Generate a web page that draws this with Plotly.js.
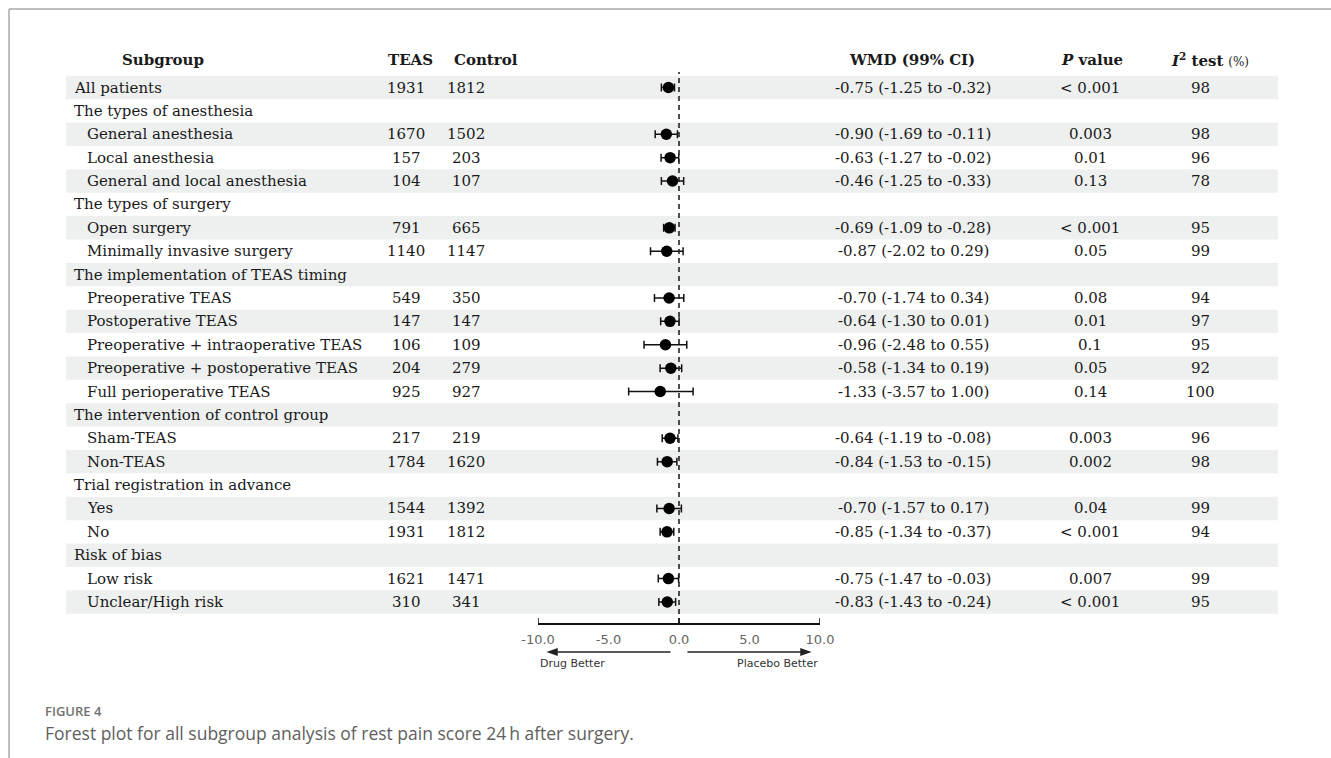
<!DOCTYPE html>
<html>
<head>
<meta charset="utf-8">
<script src="https://cdn.plot.ly/plotly-3.0.1.min.js"></script>
<style>html,body{margin:0;padding:0;background:#fff;}#chart{width:1331px;height:758px;}</style>
</head>
<body>
<div id="chart"></div>
<script>
// ---------------- data ----------------
const subgroups = [
  "All patients",
  "The types of anesthesia",
  "General anesthesia",
  "Local anesthesia",
  "General and local anesthesia",
  "The types of surgery",
  "Open surgery",
  "Minimally invasive surgery",
  "The implementation of TEAS timing",
  "Preoperative TEAS",
  "Postoperative TEAS",
  "Preoperative + intraoperative TEAS",
  "Preoperative + postoperative TEAS",
  "Full perioperative TEAS",
  "The intervention of control group",
  "Sham-TEAS",
  "Non-TEAS",
  "Trial registration in advance",
  "Yes",
  "No",
  "Risk of bias",
  "Low risk",
  "Unclear/High risk"
];
const levels = [0,0,1,1,1,0,1,1,0,1,1,1,1,1,0,1,1,0,1,1,0,1,1];
const teasN = ["1931","","1670","157","104","","791","1140","","549","147","106","204","925","","217","1784","","1544","1931","","1621","310"];
const controlN = ["1812","","1502","203","107","","665","1147","","350","147","109","279","927","","219","1620","","1392","1812","","1471","341"];
const wmd = [-0.75,null,-0.90,-0.63,-0.46,null,-0.69,-0.87,null,-0.70,-0.64,-0.96,-0.58,-1.33,null,-0.64,-0.84,null,-0.70,-0.85,null,-0.75,-0.83];
const ciLow = [-1.25,null,-1.69,-1.27,-1.25,null,-1.09,-2.02,null,-1.74,-1.30,-2.48,-1.34,-3.57,null,-1.19,-1.53,null,-1.57,-1.34,null,-1.47,-1.43];
const ciHigh = [-0.32,null,-0.11,-0.02,0.33,null,-0.28,0.29,null,0.34,0.01,0.55,0.19,1.00,null,-0.08,-0.15,null,0.17,-0.37,null,-0.03,-0.24];
const ciLabels = ["-0.75 (-1.25 to -0.32)","","-0.90 (-1.69 to -0.11)","-0.63 (-1.27 to -0.02)","-0.46 (-1.25 to -0.33)","",
  "-0.69 (-1.09 to -0.28)","-0.87 (-2.02 to 0.29)","","-0.70 (-1.74 to 0.34)","-0.64 (-1.30 to 0.01)","-0.96 (-2.48 to 0.55)",
  "-0.58 (-1.34 to 0.19)","-1.33 (-3.57 to 1.00)","","-0.64 (-1.19 to -0.08)","-0.84 (-1.53 to -0.15)","",
  "-0.70 (-1.57 to 0.17)","-0.85 (-1.34 to -0.37)","","-0.75 (-1.47 to -0.03)","-0.83 (-1.43 to -0.24)"];
const pValues = ["< 0.001","","0.003","0.01","0.13","","< 0.001","0.05","","0.08","0.01","0.1","0.05","0.14","","0.003","0.002","","0.04","< 0.001","","0.007","< 0.001"];
const i2Values = ["98","","98","96","78","","95","99","","94","97","95","92","100","","96","98","","99","94","","99","95"];
const xTickVals = [-10,-5,0,5,10];
const xTickText = ["-10.0","-5.0","0.0","5.0","10.0"];
const xMajorTicks = [-10,0,10];

// ---------------- layout helpers ----------------
const W = 1331, H = 758;
const px = x => x / W;
const py = y => 1 - y / H;
const rowTop = 87.5, rowStep = 23.386;
const plotTop = 72, plotBottom = 623;
const yTopVal = (plotTop - rowTop) / rowStep;
const yBotVal = (plotBottom - rowTop) / rowStep;
const rows = subgroups.map((_, i) => i);

const serif = "DejaVu Serif";
const txtColor = "#1a1a1a";
const shapes = [];
const annotations = [];

// zebra shading
rows.forEach(i => {
  if (i % 2 === 0) {
    shapes.push({type:"rect", layer:"below", xref:"paper", yref:"y",
      x0:px(66), x1:px(1278), y0:i-0.5, y1:i+0.5,
      fillcolor:"#edf0ef", line:{width:0}});
  }
});
// frame lines
shapes.push({type:"line", xref:"paper", yref:"paper", x0:px(9), x1:1, y0:py(9), y1:py(9), line:{color:"#a8a8a8", width:1.5}});
shapes.push({type:"line", xref:"paper", yref:"paper", x0:px(9), x1:px(9), y0:0, y1:py(9), line:{color:"#a8a8a8", width:1.5}});
// null line
shapes.push({type:"line", xref:"x", yref:"paper", x0:0, x1:0, y0:py(plotBottom), y1:py(plotTop),
  line:{color:"#222", width:1.6, dash:"5px,4px"}});
// upward tick marks at the axis ends and at zero
xMajorTicks.forEach(t => shapes.push({type:"line", xref:"x", yref:"paper", x0:t, x1:t,
  y0:py(plotBottom), y1:py(plotBottom - 5), line:{color:"#111", width:1.5}}));

// direction arrows (shaft + filled head)
const arrowY = py(652), headH = 4 / H;
shapes.push({type:"line", xref:"x", yref:"paper", x0:-0.6, x1:-8.8, y0:arrowY, y1:arrowY, line:{color:"#222", width:1.5}});
shapes.push({type:"path", xref:"x", yref:"paper",
  path:`M -9.4 ${arrowY} L -8.6 ${arrowY + headH} L -8.6 ${arrowY - headH} Z`, fillcolor:"#222", line:{width:0}});
shapes.push({type:"line", xref:"x", yref:"paper", x0:0.6, x1:8.8, y0:arrowY, y1:arrowY, line:{color:"#222", width:1.5}});
shapes.push({type:"path", xref:"x", yref:"paper",
  path:`M 9.4 ${arrowY} L 8.6 ${arrowY + headH} L 8.6 ${arrowY - headH} Z`, fillcolor:"#222", line:{width:0}});

// headers
const headerY = py(60);
const hdr = (x, text, anchor) => annotations.push({xref:"paper", yref:"paper", x:px(x), y:headerY,
  text, showarrow:false, xanchor:anchor||"center", yanchor:"middle", font:{family:serif, size:15, color:txtColor}});
hdr(163, "<b>Subgroup</b>");
hdr(410, "<b>TEAS</b>");
hdr(486, "<b>Control</b>");
hdr(912, "<b>WMD (99% CI)</b>");
hdr(1092, "<b><i>P</i> value</b>");
hdr(1210, "<b><i>I</i><sup>2</sup> test</b> <span style='font-size:12px'>(%)</span>");

// table cells
const cell = (x, i, text, anchor) => {
  if (!text) return;
  annotations.push({xref:"paper", yref:"y", x:px(x), y:i, text, showarrow:false,
    xanchor:anchor, yanchor:"middle", font:{family:serif, size:15, color:txtColor}});
};
rows.forEach(i => {
  cell(levels[i] === 0 ? 72 : 85, i, subgroups[i], "left");
  cell(406, i, teasN[i], "center");
  cell(466, i, controlN[i], "center");
  cell(913, i, ciLabels[i], "center");
  cell(1090, i, pValues[i], "center");
  cell(1200, i, i2Values[i], "center");
});

annotations.push({xref:"x", yref:"paper", x:-10, y:py(663), text:"Drug Better", showarrow:false,
  xanchor:"left", yanchor:"middle", font:{family:"DejaVu Sans", size:11, color:"#333"}});
annotations.push({xref:"x", yref:"paper", x:10, y:py(663), text:"Placebo Better", showarrow:false,
  xanchor:"right", yanchor:"middle", font:{family:"DejaVu Sans", size:11, color:"#333"}});

// caption
annotations.push({xref:"paper", yref:"paper", x:px(43), y:py(711), text:"FIGURE 4", showarrow:false,
  xanchor:"left", yanchor:"middle", font:{family:"Open Sans", size:13, color:"#707070", weight:600}});
annotations.push({xref:"paper", yref:"paper", x:px(43), y:py(733),
  text:"Forest plot for all subgroup analysis of rest pain score 24\u2009h after surgery.", showarrow:false,
  xanchor:"left", yanchor:"middle", font:{family:"Open Sans", size:17.5, color:"#606060"}});

// ---------------- traces ----------------
const errPlus = wmd.map((v, i) => v === null ? null : ciHigh[i] - v);
const errMinus = wmd.map((v, i) => v === null ? null : v - ciLow[i]);
const traces = [
  {type:"scatter", mode:"markers", x:wmd, y:rows, xaxis:"x", yaxis:"y",
   marker:{color:"#000", size:11.5},
   error_x:{type:"data", array:errPlus, arrayminus:errMinus, color:"#111", thickness:1.5, width:4},
   hoverinfo:"skip", showlegend:false}
];

const layout = {
  width:W, height:H, margin:{l:0, r:0, t:0, b:0},
  paper_bgcolor:"#fff", plot_bgcolor:"rgba(0,0,0,0)",
  showlegend:false,
  xaxis:{domain:[px(538), px(820)], range:[-10,10], tickvals:xTickVals, ticktext:xTickText,
    showgrid:false, zeroline:false, showline:true, linecolor:"#111", linewidth:1.5, ticks:"",
    ticklabelstandoff:4,
    tickfont:{family:"DejaVu Sans", size:13, color:"#666"}, anchor:"y", fixedrange:true},
  yaxis:{domain:[py(plotBottom), py(plotTop)], range:[yBotVal, yTopVal], visible:false, fixedrange:true},
  shapes, annotations
};

Plotly.newPlot("chart", traces, layout, {staticPlot:true, displayModeBar:false});
</script>
</body>
</html>
